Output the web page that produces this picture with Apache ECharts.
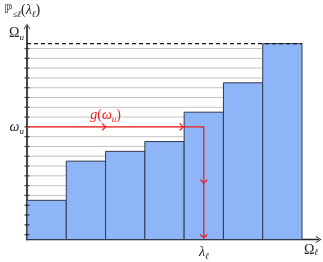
<!DOCTYPE html>
<html><head><meta charset="utf-8">
<script src="https://cdn.jsdelivr.net/npm/echarts@6/dist/echarts.min.js"></script>
<style>html,body{margin:0;padding:0;background:#fff}#c{width:323px;height:262px}</style>
</head><body><div id="c"></div>
<script>
// ---- data ----
const BAR_INDEX = [0, 1, 2, 3, 4, 5, 6];
const BAR_VALUES = [4, 8, 9, 10, 13, 16, 20];
const GRID_LEVELS = [0.5, 1.5, 2.5, 3.5, 4.5, 5.5, 6.5, 7.5, 8.5, 9.5, 10.5, 11.5, 12.5, 13.5, 14.5, 15.5, 16.5, 17.5, 18.5, 19.5];
const TICK_LEVELS = [0.5, 1.5, 2.5, 3.5, 4.5, 5.5, 6.5, 7.5, 8.5, 9.5, 10.5, 11.5, 12.5, 13.5, 14.5, 15.5, 16.5, 17.5, 18.5, 19.5];
const OMEGA_U = 20;          // dashed top level
const OMEGA_SMALL_U = 11.5;  // ω_u level
const BAR_EDGE_X = 4;        // left edge of bar reached by g(ω_u)
const LAMBDA_X = 4.5;        // λ_ℓ position
const X_MAX = 7.42;
const Y_MAX = 21.75;
const Y_LABEL_VALUES = [11.5, 21.08];
const Y_LABEL_TEXT = ['{i|ω}{s|u}', '{m|Ω}{s|u}'];
const X_LABEL_VALUES = [4.5, 7.23];
const X_LABEL_TEXT = ['{i|λ}{s|ℓ}', '{o|Ω}{os|ℓ}'];
const Y_NAME = '{b|ℙ}{s|≤ℓ}{m|(}{i|λ}{s|ℓ}{m|)}';
const G_LABEL = '{ri|g}{rm|(}{ri|ω}{rs|u}{rm|)}';

// ---- styles ----
const SERIF = 'Liberation Serif, DejaVu Serif, serif';
const INK = '#222';
const RED = '#f21d1d';
const BAR_FILL = '#8fb5f9';
const BAR_STROKE = '#2f3b4d';
const RICH = {
  m: {fontFamily: SERIF, fontSize: 14, lineHeight: 18, color: INK, fill: INK},
  b: {fontFamily: 'DejaVu Sans, sans-serif', fontSize: 12, lineHeight: 18, color: INK, fill: INK},
  i: {fontFamily: SERIF, fontStyle: 'italic', fontSize: 14, lineHeight: 18, color: INK, fill: INK},
  s: {fontFamily: SERIF, fontStyle: 'italic', fontSize: 9, lineHeight: 10, verticalAlign: 'bottom', color: INK, fill: INK},
  o: {fontFamily: SERIF, fontSize: 14, lineHeight: 14, color: INK, fill: INK},
  os: {fontFamily: SERIF, fontStyle: 'italic', fontSize: 9, lineHeight: 8, verticalAlign: 'bottom', color: INK, fill: INK},
  ri: {fontFamily: SERIF, fontStyle: 'italic', fontSize: 14, lineHeight: 18, color: RED, fill: RED},
  rm: {fontFamily: SERIF, fontSize: 14, lineHeight: 18, color: RED, fill: RED},
  rs: {fontFamily: SERIF, fontStyle: 'italic', fontSize: 9, lineHeight: 10, verticalAlign: 'bottom', color: RED, fill: RED}
};
const CHEVRON = 'path://M0,8 L5,0 L10,8 L9.1,8.7 L5,1.9 L0.9,8.7 Z';

const chart = echarts.init(document.getElementById('c'), null, {renderer: 'canvas'});

function chevron(tip, dir, s) {
  const [x, y] = tip;
  if (dir === 'right') return [[x - s, y - s], [x, y], [x - s, y + s]];
  return [[x - s, y - s], [x, y], [x + s, y - s]];
}

chart.setOption({
  animation: false,
  grid: {left: 27, right: 4.5, top: 26.5, bottom: 22.5},
  graphic: [{type: 'text', left: 4, top: 3, style: {text: Y_NAME, rich: RICH}}],
  xAxis: {
    type: 'value', min: 0, max: X_MAX,
    splitLine: {show: false}, axisTick: {show: false},
    axisLine: {show: true, lineStyle: {color: INK, width: 1.4}, symbol: ['none', CHEVRON], symbolSize: [8, 6]},
    axisLabel: {
      show: true, customValues: X_LABEL_VALUES, margin: 4,
      formatter: v => X_LABEL_TEXT[X_LABEL_VALUES.indexOf(v)] || '', rich: RICH
    }
  },
  yAxis: {
    type: 'value', min: 0, max: Y_MAX,
    splitLine: {show: false}, axisTick: {show: false},
    axisLine: {show: true, lineStyle: {color: '#333', width: 1.8}, symbol: ['none', CHEVRON], symbolSize: [8, 6]},
    axisLabel: {
      show: true, customValues: Y_LABEL_VALUES, margin: 3,
      formatter: v => Y_LABEL_TEXT[Y_LABEL_VALUES.indexOf(v)] || '', rich: RICH
    }
  },
  series: [
    { // horizontal guide lines
      type: 'custom', z: 1, silent: true,
      data: GRID_LEVELS.map(v => [0, v]),
      renderItem: (p, api) => {
        const a = api.coord([0, api.value(1)]), b = api.coord([BAR_INDEX.length, api.value(1)]);
        return {type: 'line', shape: {x1: a[0], y1: a[1], x2: b[0], y2: b[1]}, style: {stroke: '#c4c4c4', lineWidth: 1}};
      }
    },
    { // bars
      type: 'custom', z: 2, silent: true,
      data: BAR_INDEX.map((i, k) => [i, BAR_VALUES[k]]),
      renderItem: (p, api) => {
        const i = api.value(0), v = api.value(1);
        const a = api.coord([i, 0]), b = api.coord([i + 1, v]);
        return {type: 'rect', shape: {x: a[0], y: b[1], width: b[0] - a[0], height: a[1] - b[1]},
          style: {fill: BAR_FILL, stroke: BAR_STROKE, lineWidth: 1}};
      }
    },
    { // dashed Ω_u line
      type: 'custom', z: 3, silent: true,
      data: [[0, OMEGA_U]],
      renderItem: (p, api) => {
        const a = api.coord([0, api.value(1)]), b = api.coord([BAR_INDEX.length, api.value(1)]);
        return {type: 'line', shape: {x1: a[0], y1: a[1], x2: b[0], y2: b[1]},
          style: {stroke: '#111', lineWidth: 1.2, lineDash: [4, 3]}};
      }
    },
    { // y ticks
      type: 'scatter', z: 4, silent: true, clip: false,
      symbol: 'rect', symbolSize: [5, 1.3],
      itemStyle: {color: '#222'},
      data: TICK_LEVELS.map(v => [0, v])
    },
    { // red g(ω_u) path
      type: 'custom', z: 5, silent: true, clip: false,
      data: [[LAMBDA_X, OMEGA_SMALL_U]],
      renderItem: (p, api) => {
        const lx = api.value(0), wy = api.value(1);
        const p0 = api.coord([0, wy]), pe = api.coord([BAR_EDGE_X, wy]);
        const pm = api.coord([BAR_EDGE_X / 2, wy]);
        const pc = api.coord([lx, wy]), pb = api.coord([lx, 0]);
        const pv = api.coord([lx, wy / 2]);
        const st = {stroke: RED, lineWidth: 1.3, fill: null};
        const end = [pb[0], pb[1] - 1.5];
        return {type: 'group', children: [
          {type: 'polyline', shape: {points: [p0, pe]}, style: st},
          {type: 'polyline', shape: {points: [pe, pc, end]}, style: st},
          {type: 'polyline', shape: {points: chevron(pm, 'right', 3.5)}, style: st},
          {type: 'polyline', shape: {points: chevron([pe[0] - 1, pe[1]], 'right', 3.5)}, style: st},
          {type: 'polyline', shape: {points: chevron(pv, 'down', 3.5)}, style: st},
          {type: 'polyline', shape: {points: chevron(end, 'down', 3.5)}, style: st},
          {type: 'text', x: pm[0], y: pm[1] - 12, style: {text: G_LABEL, rich: RICH, fill: RED, align: 'center', verticalAlign: 'middle'}}
        ]};
      }
    }
  ]
});
</script></body></html>
